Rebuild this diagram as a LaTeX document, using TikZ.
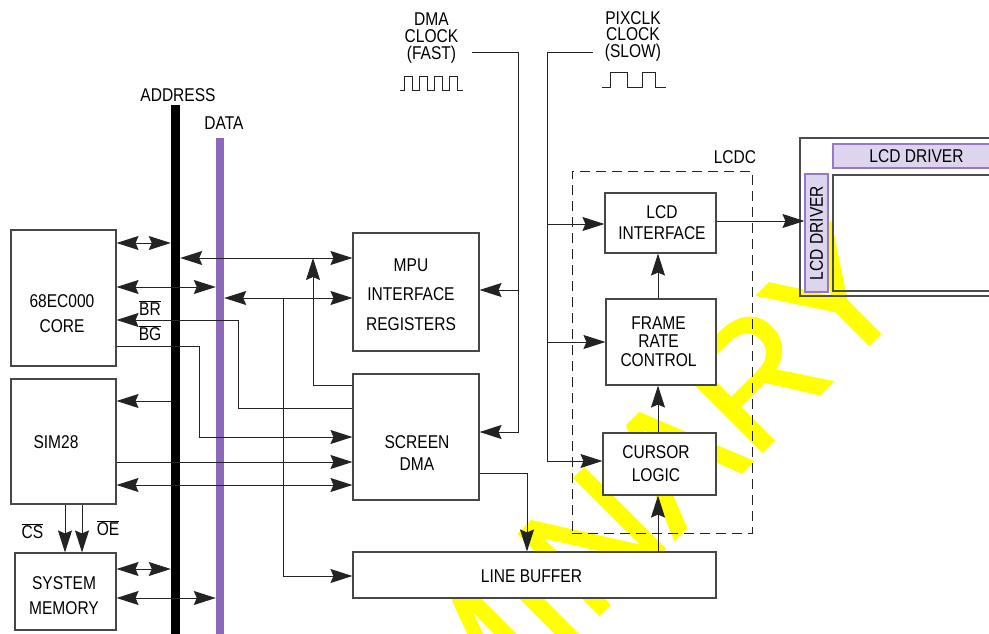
\documentclass[tikz,border=0pt]{standalone}
\usepackage{fontspec}
\newfontfamily\nar[FakeStretch=0.84]{Liberation Sans}
\newfontfamily\wmf[FakeBold=1.2]{Liberation Sans}
\usetikzlibrary{arrows.meta}
\definecolor{buspurple}{RGB}{140,104,187}
\definecolor{drvfill}{RGB}{221,213,238}
\definecolor{drvline}{RGB}{150,120,200}
\definecolor{wmyellow}{RGB}{255,255,0}
\definecolor{ln}{RGB}{35,35,35}
\begin{document}
\begin{tikzpicture}[x=1pt,y=-1pt,
  wire/.style={draw=ln,line width=1pt},
  tipa/.tip={Stealth[length=22pt,width=14pt,inset=3pt]},
  arr/.style={wire,-tipa},
  darr/.style={wire,tipa-tipa},
  box/.style={draw=black!72,fill=white,line width=1.1pt,inner sep=0pt},
  txt/.style={font=\nar\fontsize{18.5}{#1}\selectfont,align=center,inner sep=0pt},
  txt/.default=20,
  drv/.style={draw=drvline,fill=drvfill,line width=1.1pt,inner sep=0pt,font=\nar\fontsize{18.5}{20}\selectfont}]
\useasboundingbox (0,0) rectangle (989,634);
% watermark
\begin{scope}
\clip (0,0) rectangle (989,634);
\node[anchor=base east,rotate=45,inner sep=0pt,text=wmyellow,font=\wmf\fontsize{166}{166}\selectfont] (wm) at (914,300) {PRELIMINARY};
\end{scope}
% buses
\node[fill=black,minimum width=9pt,minimum height=529pt,inner sep=0pt] (abus) at (175.5,369.5) {};
\node[fill=buspurple,minimum width=8pt,minimum height=496pt,inner sep=0pt] (dbus) at (220,386) {};
\node[txt] (taddr) at (178,95) {ADDRESS};
\node[txt] (tdata) at (224,123.5) {DATA};
% boxes
\node[box,minimum width=105pt,minimum height=136pt] (core) at (63.5,298) {};
\node[box,minimum width=105pt,minimum height=125pt] (sim) at (63.5,441.5) {};
\node[box,minimum width=101pt,minimum height=77pt] (mem) at (65.5,591.5) {};
\node[box,minimum width=126pt,minimum height=118pt] (mpu) at (416,292) {};
\node[box,minimum width=126pt,minimum height=126pt] (sdma) at (416,437) {};
\node[box,minimum width=363pt,minimum height=46pt] (lbuf) at (534.5,575) {};
\node[box,minimum width=111pt,minimum height=60pt] (lcdif) at (660.5,223) {};
\node[box,minimum width=110pt,minimum height=86pt] (frc) at (661,342) {};
\node[box,minimum width=113pt,minimum height=62pt] (cur) at (659.5,464) {};
\node[draw=ln,line width=1pt,dash pattern=on 10pt off 6pt,minimum width=180pt,minimum height=362pt,inner sep=0pt] (lcdc) at (662,352) {};
\node[txt] (tlcdc) at (735,157) {LCDC};
% box texts
\node[txt=25] (tcore) at (62,313.5) {68EC000\\CORE};
\node[txt] (tsim) at (56,442) {SIM28};
\node[txt=25] (tmem) at (64,595.5) {SYSTEM\\MEMORY};
\node[txt=29.75] (tmpu) at (411,294.7) {MPU\\INTERFACE\\REGISTERS};
\node[txt=21.5] (tsdma) at (417,453) {SCREEN\\DMA};
\node[txt] (tlbuf) at (531.5,576.5) {LINE BUFFER};
\node[txt=21.5] (tlcdif) at (662,222.8) {LCD\\INTERFACE};
\node[txt=18.75] (tfrc) at (658.5,341.7) {FRAME\\RATE\\CONTROL};
\node[txt=23] (tcur) at (656,464) {CURSOR\\LOGIC};
% signal labels
\node[txt] (tbr) at (150,308) {\(\overline{\hbox{BR}}\)};
\node[txt] (tbg) at (150,333) {\(\overline{\hbox{BG}}\)};
\node[txt] (tcs) at (32.5,531.5) {\(\overline{\hbox{CS}}\)};
\node[txt] (toe) at (108,528.5) {\(\overline{\hbox{OE}}\)};
\node[txt=17.2] (tdmaclk) at (431.5,38) {DMA\\CLOCK\\(FAST)};
\node[txt=16.5] (tpixclk) at (633,36) {PIXCLK\\CLOCK\\(SLOW)};
% waveforms
\draw[wire] (400,91) -- (404,91) -- (404,77) -- (412,77) -- (412,91) -- (419,91) -- (419,77) -- (427,77) -- (427,91) -- (434,91) -- (434,77) -- (442,77) -- (442,91) -- (449,91) -- (449,77) -- (457,77) -- (457,91) -- (463,91);
\draw[wire] (602,88) -- (610,88) -- (610,73) -- (627,73) -- (627,88) -- (642,88) -- (642,73) -- (655,73) -- (655,88) -- (666,88);
% LCD panel
\draw[draw=black!70,line width=1.4pt] (800,138) rectangle (1000,296);
\draw[draw=black!70,line width=1.2pt] (833,175) rectangle (1000,291);
\node[drv,minimum width=167pt,minimum height=24pt] (hdrv) at (916.5,156) {LCD DRIVER};
\node[drv,minimum width=23pt,minimum height=118pt] (vdrv) at (816.5,233) {\rotatebox{90}{LCD DRIVER}};
% connectors: CPU side
\draw[darr] (core.east |- 0,243) -- (abus.west |- 0,243);
\draw[darr] (abus.east |- 0,258) -- (mpu.west |- 0,258);
\draw[darr] (core.east |- 0,287) -- (dbus.west |- 0,287);
\draw[darr] (dbus.east |- 0,298) -- (mpu.west |- 0,298);
\draw[arr] (sdma.west |- 0,408) -- (238,408) -- (238,320) -- (core.east |- 0,320);
\draw[arr] (core.east |- 0,346) -- (199,346) -- (199,437) -- (sdma.west |- 0,437);
\draw[arr] (abus.west |- 0,401) -- (sim.east |- 0,401);
\draw[arr] (sim.east |- 0,462) -- (sdma.west |- 0,462);
\draw[darr] (sim.east |- 0,485) -- (sdma.west |- 0,485);
\coordinate (j1) at (283,298);
\draw[arr] (j1) -- (283,576) -- (lbuf.west |- 0,576);
\draw[arr] (sdma.west |- 0,385) -- (313,385) -- (313,258);
\draw[arr] (sim.south -| 65,0) -- (mem.north -| 65,0);
\draw[arr] (sim.south -| 82,0) -- (mem.north -| 82,0);
\draw[darr] (mem.east |- 0,569) -- (abus.west |- 0,569);
\draw[darr] (mem.east |- 0,598) -- (dbus.west |- 0,598);
% clocks
\coordinate (dmac) at (472,53);
\draw[arr] (dmac) -- (518,53) -- (518,432) -- (sdma.east |- 0,432);
\draw[arr] (518,290) -- (mpu.east |- 0,290);
\coordinate (pixc) at (593,53);
\draw[arr] (pixc) -- (547,53) -- (547,461) -- (cur.west |- 0,461);
\draw[arr] (547,224) -- (lcdif.west |- 0,224);
\draw[arr] (547,342) -- (frc.west |- 0,342);
% data path
\draw[arr] (sdma.east |- 0,473) -- (527,473) -- (lbuf.north -| 527,0);
\draw[arr] (lbuf.north -| 658,0) -- (cur.south -| 658,0);
\draw[arr] (cur.north -| 658,0) -- (frc.south -| 658,0);
\draw[arr] (frc.north -| 658,0) -- (lcdif.south -| 658,0);
\draw[arr] (lcdif.east |- 0,221) -- (vdrv.west |- 0,221);
\end{tikzpicture}
\end{document}
